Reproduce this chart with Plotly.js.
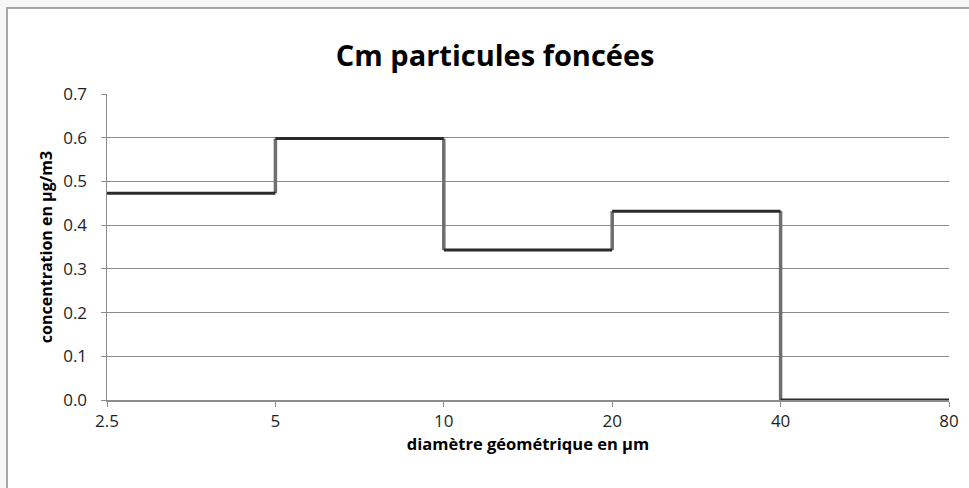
<!DOCTYPE html>
<html>
<head>
<meta charset="utf-8">
<script src="https://cdn.plot.ly/plotly-3.0.1.min.js"></script>
<style>
html, body { margin: 0; padding: 0; background: #ffffff; }
#wrap { position: relative; width: 969px; height: 488px; background: #f7f7f7; overflow: hidden; }
#frame { position: absolute; left: 6px; top: 7px; width: 975px; height: 490px; border-top: 2px solid #a6a6a6; border-left: 2px solid #a6a6a6; background: #fff; }
#chart { position: absolute; left: 0; top: 0; width: 969px; height: 488px; }
</style>
</head>
<body>
<div id="wrap">
  <div id="frame"></div>
  <div id="chart"></div>
</div>
<script>
const binEdges = [2.5, 5, 10, 20, 40, 80];
const concentration = [0.473, 0.598, 0.343, 0.432, 0.0];
const xTickLabels = ['2.5', '5', '10', '20', '40', '80'];
const chartTitle = 'Cm particules foncées';
const xTitle = 'diamètre géométrique en µm';
const yTitle = 'concentration en µg/m3';

// horizontal steps
const hx = [], hy = [];
for (let i = 0; i < concentration.length; i++) {
  hx.push(binEdges[i], binEdges[i + 1], null);
  hy.push(concentration[i], concentration[i], null);
}
// vertical risers between bins
const vx = [], vy = [];
for (let i = 1; i < concentration.length; i++) {
  vx.push(binEdges[i], binEdges[i], null);
  vy.push(concentration[i - 1], concentration[i], null);
}

const risers = {
  x: vx, y: vy, type: 'scatter', mode: 'lines',
  line: { color: '#6f6f6f', width: 3.5 },
  hoverinfo: 'skip', showlegend: false
};
const steps = {
  x: hx, y: hy, type: 'scatter', mode: 'lines',
  line: { color: '#2b2b2b', width: 3 },
  hoverinfo: 'skip', showlegend: false
};

const fontMain = 'Open Sans, Noto Sans, Arial, sans-serif';

const layout = {
  width: 969,
  height: 488,
  paper_bgcolor: 'rgba(0,0,0,0)',
  plot_bgcolor: 'rgba(0,0,0,0)',
  margin: { l: 107, r: 20, t: 94, b: 88 },
  title: {
    text: '<b>' + chartTitle + '</b>',
    font: { family: fontMain, size: 29, color: '#000000' },
    xref: 'container', x: 0.511, xanchor: 'center',
    yref: 'container', y: 0.885, yanchor: 'middle'
  },
  xaxis: {
    type: 'log',
    range: [Math.log10(2.5), Math.log10(80)],
    tickvals: binEdges,
    ticktext: xTickLabels,
    showgrid: false,
    zeroline: false,
    showline: true,
    linecolor: '#8c8c8c',
    linewidth: 1.5,
    ticks: 'outside',
    ticklen: 5,
    tickcolor: '#8c8c8c',
    tickfont: { family: fontMain, size: 17, color: '#1e1e1e' },
    title: { text: '<b>' + xTitle + '</b>', font: { family: fontMain, size: 16.5, color: '#000000' }, standoff: 2 }
  },
  yaxis: {
    range: [0, 0.7],
    dtick: 0.1,
    tick0: 0,
    tickformat: '.1f',
    showgrid: true,
    gridcolor: '#8c8c8c',
    gridwidth: 1,
    zeroline: false,
    showline: true,
    linecolor: '#8c8c8c',
    linewidth: 1.5,
    ticks: 'outside',
    ticklen: 5,
    tickcolor: '#8c8c8c',
    ticklabelstandoff: 10,
    tickfont: { family: fontMain, size: 17, color: '#1e1e1e' },
    title: { text: '<b>' + yTitle + '</b>', font: { family: fontMain, size: 16, color: '#000000' }, standoff: 6 }
  }
};

Plotly.newPlot('chart', [risers, steps], layout, { staticPlot: true, displayModeBar: false });
</script>
</body>
</html>
